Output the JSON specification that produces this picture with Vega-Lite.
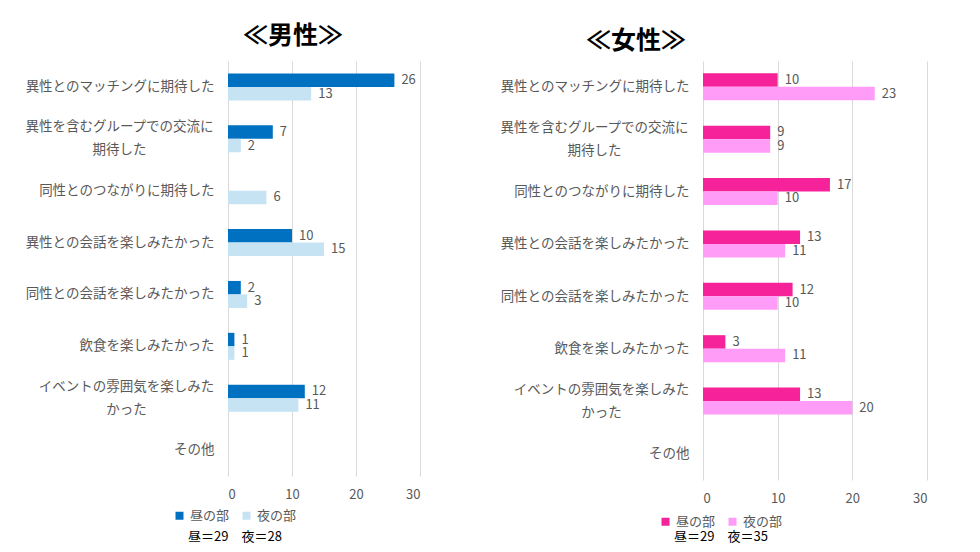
{
  "$schema": "https://vega.github.io/schema/vega-lite/v6.json",
  "background": "white",
  "padding": {"left": 24, "top": 24, "right": 5, "bottom": 5},
  "config": {
    "font": "Noto Sans CJK JP",
    "view": {"stroke": null},
    "axis": {"labelColor": "#595959", "domain": false, "ticks": false, "title": null},
    "title": {"fontSize": 25, "fontWeight": "bold", "color": "#000000", "anchor": "middle", "frame": "group", "offset": 12},
    "legend": {
      "orient": "none",
      "direction": "horizontal",
      "symbolType": "square",
      "symbolSize": 64,
      "symbolStrokeWidth": 0,
      "labelFontSize": 13,
      "labelColor": "#595959",
      "labelOffset": 4,
      "columnPadding": 10,
      "padding": 0,
      "titleOrient": "bottom",
      "titleFontSize": 13,
      "titleFontWeight": "normal",
      "titleColor": "#000000",
      "titleAnchor": "middle",
      "titlePadding": 8
    }
  },
  "datasets": {
    "male": [
      {"category": "異性とのマッチングに期待した", "session": "昼の部", "value": 26},
      {"category": "異性とのマッチングに期待した", "session": "夜の部", "value": 13},
      {"category": "異性を含むグループでの交流に期待した", "session": "昼の部", "value": 7},
      {"category": "異性を含むグループでの交流に期待した", "session": "夜の部", "value": 2},
      {"category": "同性とのつながりに期待した", "session": "夜の部", "value": 6},
      {"category": "異性との会話を楽しみたかった", "session": "昼の部", "value": 10},
      {"category": "異性との会話を楽しみたかった", "session": "夜の部", "value": 15},
      {"category": "同性との会話を楽しみたかった", "session": "昼の部", "value": 2},
      {"category": "同性との会話を楽しみたかった", "session": "夜の部", "value": 3},
      {"category": "飲食を楽しみたかった", "session": "昼の部", "value": 1},
      {"category": "飲食を楽しみたかった", "session": "夜の部", "value": 1},
      {"category": "イベントの雰囲気を楽しみたかった", "session": "昼の部", "value": 12},
      {"category": "イベントの雰囲気を楽しみたかった", "session": "夜の部", "value": 11}
    ],
    "female": [
      {"category": "異性とのマッチングに期待した", "session": "昼の部", "value": 10},
      {"category": "異性とのマッチングに期待した", "session": "夜の部", "value": 23},
      {"category": "異性を含むグループでの交流に期待した", "session": "昼の部", "value": 9},
      {"category": "異性を含むグループでの交流に期待した", "session": "夜の部", "value": 9},
      {"category": "同性とのつながりに期待した", "session": "昼の部", "value": 17},
      {"category": "同性とのつながりに期待した", "session": "夜の部", "value": 10},
      {"category": "異性との会話を楽しみたかった", "session": "昼の部", "value": 13},
      {"category": "異性との会話を楽しみたかった", "session": "夜の部", "value": 11},
      {"category": "同性との会話を楽しみたかった", "session": "昼の部", "value": 12},
      {"category": "同性との会話を楽しみたかった", "session": "夜の部", "value": 10},
      {"category": "飲食を楽しみたかった", "session": "昼の部", "value": 3},
      {"category": "飲食を楽しみたかった", "session": "夜の部", "value": 11},
      {"category": "イベントの雰囲気を楽しみたかった", "session": "昼の部", "value": 13},
      {"category": "イベントの雰囲気を楽しみたかった", "session": "夜の部", "value": 20}
    ]
  },
  "spacing": 79,
  "resolve": {
    "scale": {"color": "independent", "x": "independent", "y": "independent"},
    "legend": {"color": "independent"}
  },
  "hconcat": [
    {
      "title": {"text": "≪男性≫", "dx": -31},
      "width": 192,
      "height": 415,
      "data": {"name": "male"},
      "encoding": {
        "y": {
          "field": "category",
          "type": "nominal",
          "scale": {
            "domain": ["異性とのマッチングに期待した", "異性を含むグループでの交流に期待した", "同性とのつながりに期待した", "異性との会話を楽しみたかった", "同性との会話を楽しみたかった", "飲食を楽しみたかった", "イベントの雰囲気を楽しみたかった", "その他"],
            "paddingInner": 0.48,
            "paddingOuter": 0.24
          },
          "axis": {
            "labelExpr": "datum.value == '異性を含むグループでの交流に期待した' ? ['異性を含むグループでの交流に', '期待した'] : datum.value == 'イベントの雰囲気を楽しみたかった' ? ['イベントの雰囲気を楽しみた', 'かった'] : datum.value",
            "labelFontSize": 13.5,
            "labelLineHeight": 23,
            "labelLimit": 300,
            "labelAlign": {
              "condition": {"test": "datum.value == '異性を含むグループでの交流に期待した' || datum.value == 'イベントの雰囲気を楽しみたかった'", "value": "center"},
              "value": "right"
            },
            "labelPadding": {
              "condition": [
                {"test": "datum.value == '異性を含むグループでの交流に期待した'", "value": 109},
                {"test": "datum.value == 'イベントの雰囲気を楽しみたかった'", "value": 102}
              ],
              "value": 14
            },
            "labelOffset": {
              "condition": {"test": "datum.value == '異性を含むグループでの交流に期待した' || datum.value == 'イベントの雰囲気を楽しみたかった'", "value": -11.5},
              "value": 0
            }
          }
        },
        "yOffset": {
          "field": "session",
          "type": "nominal",
          "scale": {"domain": ["昼の部", "夜の部"], "paddingInner": 0, "paddingOuter": 0}
        },
        "x": {
          "field": "value",
          "type": "quantitative",
          "scale": {"domain": [0, 30]},
          "axis": {"values": [0, 10, 20, 30], "grid": true, "gridColor": "#d9d9d9", "labelFontSize": 13, "labelPadding": 12}
        }
      },
      "layer": [
        {
          "mark": {"type": "bar"},
          "encoding": {
            "color": {
              "field": "session",
              "type": "nominal",
              "scale": {"domain": ["昼の部", "夜の部"], "range": ["#0070C0", "#C5E3F3"]},
              "legend": {"title": "昼＝29　夜＝28", "legendX": -55, "legendY": 448}
            }
          }
        },
        {
          "mark": {"type": "text", "align": "left", "baseline": "middle", "dx": 7, "fontSize": 13, "color": "#595959"},
          "encoding": {"text": {"field": "value", "type": "quantitative"}}
        }
      ]
    },
    {
      "title": {"text": "≪女性≫", "dx": -179, "offset": 7},
      "width": 224,
      "height": 419,
      "data": {"name": "female"},
      "encoding": {
        "y": {
          "field": "category",
          "type": "nominal",
          "scale": {
            "domain": ["異性とのマッチングに期待した", "異性を含むグループでの交流に期待した", "同性とのつながりに期待した", "異性との会話を楽しみたかった", "同性との会話を楽しみたかった", "飲食を楽しみたかった", "イベントの雰囲気を楽しみたかった", "その他"],
            "paddingInner": 0.47,
            "paddingOuter": 0.235
          },
          "axis": {
            "labelExpr": "datum.value == '異性を含むグループでの交流に期待した' ? ['異性を含むグループでの交流に', '期待した'] : datum.value == 'イベントの雰囲気を楽しみたかった' ? ['イベントの雰囲気を楽しみた', 'かった'] : datum.value",
            "labelFontSize": 13.5,
            "labelLineHeight": 23,
            "labelLimit": 300,
            "labelAlign": {
              "condition": {"test": "datum.value == '異性を含むグループでの交流に期待した' || datum.value == 'イベントの雰囲気を楽しみたかった'", "value": "center"},
              "value": "right"
            },
            "labelPadding": {
              "condition": [
                {"test": "datum.value == '異性を含むグループでの交流に期待した'", "value": 109},
                {"test": "datum.value == 'イベントの雰囲気を楽しみたかった'", "value": 102}
              ],
              "value": 14
            },
            "labelOffset": {
              "condition": {"test": "datum.value == '異性を含むグループでの交流に期待した' || datum.value == 'イベントの雰囲気を楽しみたかった'", "value": -11.5},
              "value": 0
            }
          }
        },
        "yOffset": {
          "field": "session",
          "type": "nominal",
          "scale": {"domain": ["昼の部", "夜の部"], "paddingInner": 0, "paddingOuter": 0}
        },
        "x": {
          "field": "value",
          "type": "quantitative",
          "scale": {"domain": [0, 30]},
          "axis": {"values": [0, 10, 20, 30], "grid": true, "gridColor": "#d9d9d9", "labelFontSize": 13, "labelPadding": 12}
        }
      },
      "layer": [
        {
          "mark": {"type": "bar"},
          "encoding": {
            "color": {
              "field": "session",
              "type": "nominal",
              "scale": {"domain": ["昼の部", "夜の部"], "range": ["#F5229A", "#FF9CF8"]},
              "legend": {"title": "昼＝29　夜＝35", "legendX": -44, "legendY": 454, "titlePadding": 2}
            }
          }
        },
        {
          "mark": {"type": "text", "align": "left", "baseline": "middle", "dx": 7, "fontSize": 13, "color": "#595959"},
          "encoding": {"text": {"field": "value", "type": "quantitative"}}
        }
      ]
    }
  ]
}
